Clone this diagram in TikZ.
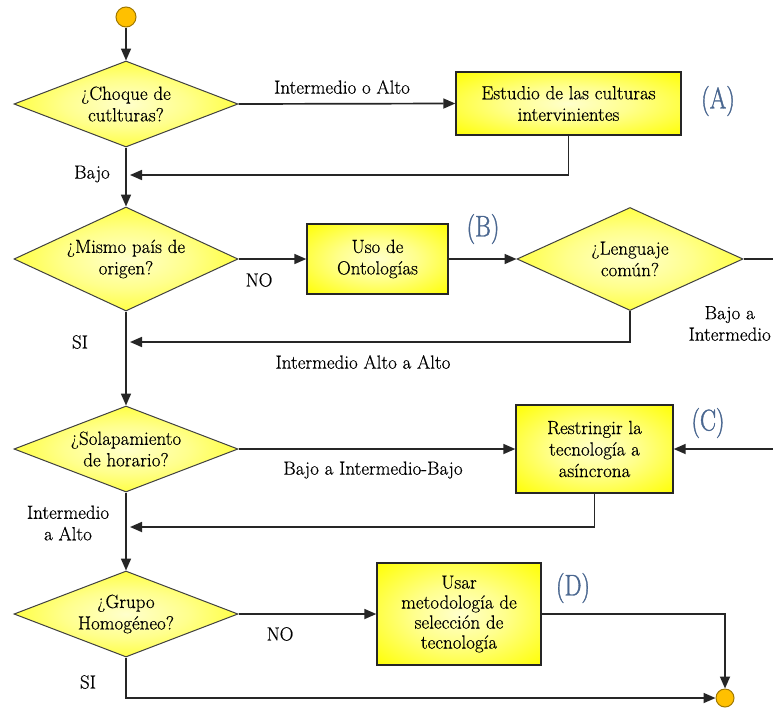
\documentclass[tikz,border=0pt]{standalone}
\usepackage{fontspec}
\newfontfamily\lblfont[FakeStretch=0.8, FakeBold=1.2]{Latin Modern Roman}
\newfontfamily\txtfont[FakeBold=0.5]{Latin Modern Roman}
\usetikzlibrary{shapes.geometric,arrows.meta}
\pgfdeclareradialshading{glow}{\pgfpoint{0bp}{0bp}}{color(0bp)=(yellow!20!white); color(14bp)=(yellow!45!white); color(36bp)=(yellow); color(50bp)=(yellow)}
\definecolor{lblblue}{HTML}{4A6790}
\definecolor{dotfill}{HTML}{FFC000}
\definecolor{dotline}{HTML}{A07800}
\tikzset{
  txt/.style={font=\txtfont\fontsize{19}{21.5}\selectfont, align=center, inner sep=0pt},
  decision/.style={diamond, draw=black!75, line width=1pt, shading=glow, inner sep=0pt},
  procbox/.style={rectangle, draw=black!85, line width=1.4pt, shading=glow, inner sep=0pt},
  conn/.style={draw=black!85, line width=1.7pt},
  arr/.style={conn, -{Triangle[length=12pt,width=10pt]}},
  dot/.style={circle, draw=dotline, line width=1pt, fill=dotfill, inner sep=0pt},
  letter/.style={font=\lblfont\fontsize{30}{30}\selectfont, text=lblblue, inner sep=0pt}
}
\begin{document}
\begin{tikzpicture}[x=1pt,y=-1pt]
\useasboundingbox (0,0) rectangle (773,707);
\fill[white] (0,0) rectangle (773,707);

% start and end
\node[dot, minimum size=20pt] (start) at (126,17) {};
\node[dot, minimum size=18pt] (end) at (725,698) {};

% decisions
\node[decision, minimum width=224pt, minimum height=86pt] (d1) at (126,104) {};
\node[txt] (d1t) at (d1) {¿Choque de\\cutlturas?};
\node[decision, minimum width=224pt, minimum height=104pt] (d2) at (126,259) {};
\node[txt] (d2t) at (d2) {¿Mismo país de\\origen?};
\node[decision, minimum width=226pt, minimum height=103pt] (d3) at (630,259) {};
\node[txt] (d3t) at (d3) {¿Lenguaje\\común?};
\node[decision, minimum width=224pt, minimum height=86pt] (d4) at (126,449) {};
\node[txt] (d4t) at (d4) {¿Solapamiento\\de horario?};
\node[decision, minimum width=224pt, minimum height=86pt] (d5) at (126,614) {};
\node[txt] (d5t) at (d5) {¿Grupo\\Homogéneo?};

% process boxes
\node[procbox, minimum width=225pt, minimum height=63pt] (bA) at (568.5,103.5) {};
\node[txt] (bAt) at (bA) {Estudio de las culturas\\intervinientes};
\node[procbox, minimum width=141pt, minimum height=70pt] (bB) at (377.5,259) {};
\node[txt] (bBt) at (bB) {Uso de\\Ontologías};
\node[procbox, minimum width=157pt, minimum height=88pt] (bC) at (594.5,449) {};
\node[txt] (bCt) at (bC) {Restringir la\\tecnología a\\asíncrona};
\node[procbox, minimum width=164pt, minimum height=102pt] (bD) at (459,614) {};
\node[txt, font=\txtfont\fontsize{19}{20}\selectfont] (bDt) at (bD) {Usar\\metodología de\\selección de\\tecnología};

% letters
\node[letter] (lA) at (718,101) {(A)};
\node[letter] (lB) at (483,229) {(B)};
\node[letter] (lC) at (708,423) {(C)};
\node[letter] (lD) at (573,588) {(D)};

% junction coordinates
\coordinate (j1) at (130,175);
\coordinate (j2) at (130,342);
\coordinate (j3) at (130,527);
\coordinate (eR1) at (773,259);
\coordinate (eR2) at (773,449);

% connectors
\draw[arr] (start) -- (d1.north);
\draw[arr] (d1.east) -- (bA.west);
\draw[arr] (bA.south) |- (j1);
\draw[arr] (d1.south) -- (d2.north);
\draw[arr] (d2.east) -- (bB.west);
\draw[arr] (bB.east) -- (d3.west);
\draw[conn] (d3.east) -- (eR1);
\draw[arr] (d3.south) |- (j2);
\draw[arr] (d2.south) -- (d4.north);
\draw[arr] (d4.east) -- (bC.west);
\draw[arr] (eR2) -- (bC.east);
\draw[arr] (bC.south) |- (j3);
\draw[arr] (d4.south) -- (d5.north);
\draw[arr] (d5.east) -- (bD.west);
\draw[arr] (bD.east) -| (end.north);
\draw[arr] (d5.south) |- (end.west);

% labels
\node[txt] (l1) at (342,87) {Intermedio o Alto};
\node[txt] (l2) at (92,174) {Bajo};
\node[txt] (l3) at (259,280) {NO};
\node[txt] (l4) at (80,342) {SI};
\node[txt] (l5) at (363,362) {Intermedio Alto a Alto};
\node[txt, anchor=north east] (l6) at (771,306) {Bajo a\\Intermedio};
\node[txt] (l7) at (373,470) {Bajo a Intermedio-Bajo};
\node[txt] (l8) at (68,523) {Intermedio\\a Alto};
\node[txt] (l9) at (280,634) {NO};
\node[txt] (l10) at (88,682) {SI};
\end{tikzpicture}
\end{document}
